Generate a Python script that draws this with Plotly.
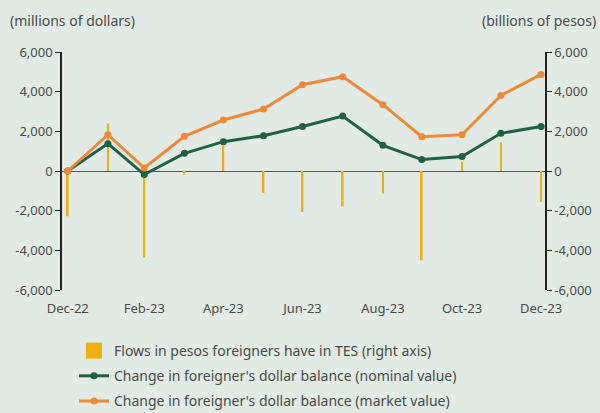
import plotly.graph_objects as go

dates = ["2022-12-31", "2023-01-31", "2023-02-28", "2023-03-31", "2023-04-30", "2023-05-31",
         "2023-06-30", "2023-07-31", "2023-08-31", "2023-09-30", "2023-10-31", "2023-11-30", "2023-12-31"]
flows_pesos = [-2280, 2400, -4360, -180, 1280, -1100, -2060, -1780, -1140, -4500, 450, 1450, -1560]
nominal = [0, 1380, -180, 890, 1480, 1780, 2240, 2770, 1295, 575, 725, 1900, 2240]
market = [0, 1830, 150, 1750, 2570, 3125, 4350, 4755, 3345, 1730, 1830, 3810, 4870]

tick_dates = ["2022-12-31", "2023-02-28", "2023-04-30", "2023-06-30", "2023-08-31", "2023-10-31", "2023-12-31"]
tick_text = ["Dec-22", "Feb-23", "Apr-23", "Jun-23", "Aug-23", "Oct-23", "Dec-23"]
y_vals = [-6000, -4000, -2000, 0, 2000, 4000, 6000]
y_text = ["-6,000", "-4,000", "-2,000", "0", "2,000", "4,000", "6,000"]

BG = "#E2EAE5"
FONT = "Noto Sans"
TXT = "#4a4a4a"
GOLD = "#EEAF0F"

fig = go.Figure()
fig.add_trace(go.Bar(x=dates, y=flows_pesos, name="Flows in pesos foreigners have in TES (right axis)",
                     marker=dict(color=GOLD, line=dict(width=0)), width=86400000 * 1.3,
                     yaxis="y", showlegend=False))
fig.add_trace(go.Scatter(x=[None], y=[None], mode="markers",
                         name="Flows in pesos foreigners have in TES (right axis)",
                         marker=dict(symbol="square", size=16, color=GOLD), yaxis="y", legendgroup="a"))
fig.add_trace(go.Scatter(x=dates, y=nominal, mode="lines+markers",
                         name="Change in foreigner's dollar balance (nominal value)",
                         line=dict(color="#1F6145", width=3), marker=dict(size=7, color="#1F6145"),
                         yaxis="y2", legendgroup="b"))
fig.add_trace(go.Scatter(x=dates, y=market, mode="lines+markers",
                         name="Change in foreigner's dollar balance (market value)",
                         line=dict(color="#F08A3A", width=3), marker=dict(size=7, color="#F08A3A"),
                         yaxis="y2", legendgroup="c"))

yax = dict(range=[-6000, 6000], tickvals=y_vals, ticktext=y_text, showgrid=False,
           zeroline=True, zerolinecolor="#555555", zerolinewidth=1.2, automargin=False,
           showline=True, linecolor="#222222", linewidth=1.5, ticks="outside", ticklen=5,
           tickcolor="#222222", tickfont=dict(family=FONT, size=13, color=TXT))

fig.update_layout(
    width=600, height=413, paper_bgcolor=BG, plot_bgcolor=BG,
    margin=dict(l=62, r=55, t=52, b=123, autoexpand=False),
    font=dict(family=FONT, color=TXT),
    xaxis=dict(type="date", range=["2022-12-26 14:00", "2024-01-03"], tickvals=tick_dates,
               ticktext=tick_text, showgrid=False, zeroline=False, showline=False, automargin=False,
               ticks="outside", ticklen=6, tickcolor="rgba(0,0,0,0)",
               tickfont=dict(family=FONT, size=13, color=TXT)),
    yaxis=yax,
    yaxis2=dict(yax, overlaying="y", side="right"),
    showlegend=True,
    legend=dict(x=(74 - 62) / 483, y=-(335 - 290) / 238, xref="paper", yref="paper",
                xanchor="left", yanchor="top", itemwidth=30,
                orientation="v", traceorder="grouped", tracegroupgap=4,
                font=dict(family=FONT, size=14, color=TXT), bgcolor="rgba(0,0,0,0)"),
)
fig.add_annotation(text="(millions of dollars)", xref="paper", yref="paper",
                   x=-54 / 483, y=1 + 32 / 238, xanchor="left", yanchor="middle", showarrow=False,
                   font=dict(family=FONT, size=14, color=TXT))
fig.add_annotation(text="(billions of pesos)", xref="paper", yref="paper",
                   x=1 + 53 / 483, y=1 + 32 / 238, xanchor="right", yanchor="middle", showarrow=False,
                   font=dict(family=FONT, size=14, color=TXT))

fig.write_html("out.html", config={"displayModeBar": False},
               post_script="document.body.style.margin='0';document.body.style.background='" + BG + "';")
